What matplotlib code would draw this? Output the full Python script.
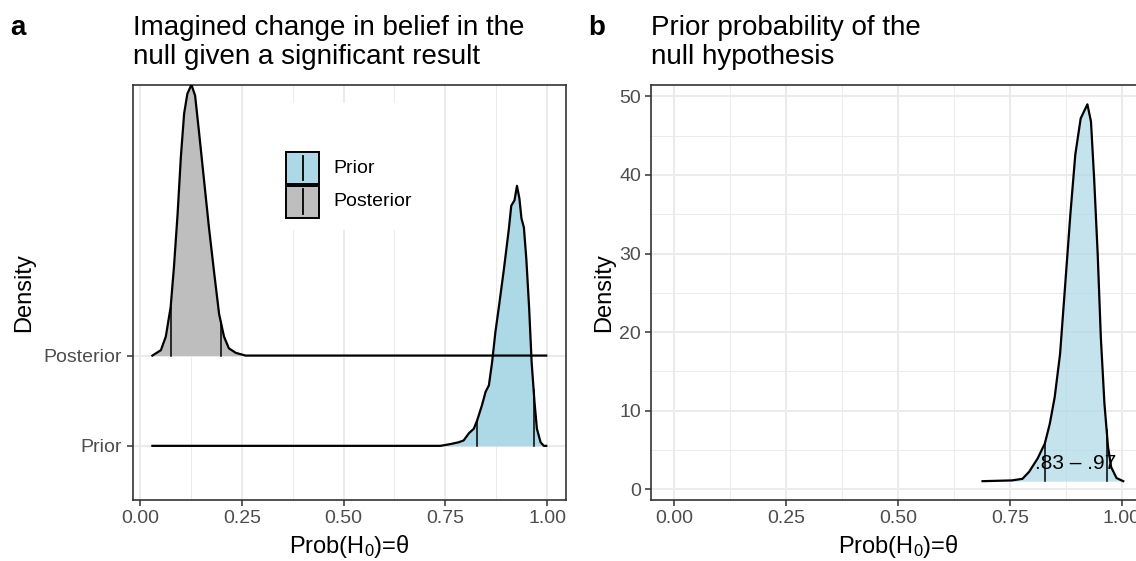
import numpy as np
import matplotlib
matplotlib.use("Agg")
import matplotlib.pyplot as plt
from matplotlib.patches import Rectangle

plt.rcParams['font.family'] = ['Liberation Sans', 'DejaVu Sans']
plt.rcParams['mathtext.fontset'] = 'custom'
plt.rcParams['mathtext.rm'] = 'Liberation Sans'
plt.rcParams['mathtext.it'] = 'Liberation Sans:italic'

# ---- panel a: ridgeline densities (height in ridge units) ----
prior_x = [0.030, 0.738, 0.763, 0.783, 0.795, 0.808, 0.820, 0.828, 0.840, 0.849,
           0.857, 0.865, 0.873, 0.881, 0.894, 0.906, 0.912, 0.920, 0.926, 0.932,
           0.937, 0.943, 0.949, 0.956, 0.962, 0.969, 0.975, 0.984, 0.992, 0.998]
prior_h = [0.00, 0.00, 0.02, 0.04, 0.06, 0.14, 0.19, 0.28, 0.45, 0.60,
           0.67, 0.93, 1.26, 1.52, 1.96, 2.40, 2.66, 2.72, 2.88, 2.74,
           2.52, 2.42, 2.07, 1.52, 0.93, 0.49, 0.19, 0.04, 0.00, 0.00]
post_x = [0.030, 0.051, 0.063, 0.075, 0.083, 0.092, 0.100, 0.108, 0.116, 0.126,
          0.135, 0.145, 0.157, 0.169, 0.182, 0.194, 0.206, 0.218, 0.235, 0.259, 0.998]
post_h = [0.00, 0.06, 0.21, 0.54, 0.98, 1.57, 2.20, 2.68, 2.90, 3.00,
          2.88, 2.46, 1.94, 1.42, 0.91, 0.46, 0.21, 0.08, 0.03, 0.00, 0.00]
prior_q = [0.828, 0.967]
post_q = [0.075, 0.198]
groups = ['Prior', 'Posterior']

# ---- panel b: prior density ----
b_x = [0.689, 0.755, 0.778, 0.793, 0.812, 0.828, 0.839, 0.850, 0.862, 0.873,
       0.885, 0.896, 0.908, 0.923, 0.931, 0.938, 0.946, 0.953, 0.961, 0.969,
       0.976, 0.988, 1.003]
b_dens = [1.0, 1.1, 1.3, 2.2, 3.9, 5.8, 8.3, 11.7, 17.2, 25.7,
          35.0, 42.6, 47.2, 49.0, 46.8, 39.6, 29.9, 19.3, 10.9, 5.4,
          2.8, 1.4, 1.0]
b_base = 1.0
b_q = [0.829, 0.966]
b_label = '.83 \u2013 .97'

grid_col = '#EBEBEB'
border_col = '#333333'
tick_col = '#4D4D4D'
blue = '#ADD8E6'
grey = '#BEBEBE'

fig = plt.figure(figsize=(11.36, 5.61), dpi=100)
ax1 = fig.add_axes([0.1168, 0.1087, 0.3814, 0.7403])
ax2 = fig.add_axes([0.5735, 0.1087, 0.4338, 0.7403])


def style(ax):
    ax.set_axisbelow(True)
    for s in ax.spines.values():
        s.set_color(border_col)
        s.set_linewidth(1.2)
    ax.tick_params(colors=border_col, labelcolor=tick_col, labelsize=14,
                   length=4, width=1.1)
    ax.grid(which='major', color=grid_col, lw=1.4)
    ax.grid(which='minor', color=grid_col, lw=0.7)
    ax.tick_params(which='minor', length=0)


# panel a
xt = [0, 0.25, 0.5, 0.75, 1.0]
for yi, (xs, hs, qs, col) in enumerate([(prior_x, prior_h, prior_q, blue),
                                       (post_x, post_h, post_q, grey)], start=1):
    xs = np.array(xs)
    top = yi + np.array(hs)
    ax1.fill_between(xs, yi, top, color=col, lw=0, zorder=2 + yi)
    ax1.plot(xs, top, color='black', lw=1.6, zorder=2.5 + yi,
             solid_joinstyle='round')
    for q in qs:
        ax1.plot([q, q], [yi, yi + np.interp(q, xs, hs)], color='black', lw=1.1,
                 zorder=2.5 + yi)

allx = prior_x + post_x
rng = max(allx) - min(allx)
ax1.set_xlim(min(allx) - 0.05 * rng, max(allx) + 0.05 * rng)
ax1.set_ylim(0.4, 2 + max(post_h))
ax1.set_xticks(xt)
ax1.set_xticklabels(['%.2f' % v for v in xt])
ax1.set_xticks([0.125, 0.375, 0.625, 0.875], minor=True)
ax1.set_yticks([1, 2])
ax1.set_yticklabels(groups)
style(ax1)
ax1.set_xlabel('Prob($\\mathrm{H}_0$)=\u03b8', fontsize=17, labelpad=4)
ax1.set_ylabel('Density', fontsize=17, labelpad=6)

# legend drawn by hand inside panel a
ax1.add_patch(Rectangle((0.330, 0.650), 0.337, 0.306, transform=ax1.transAxes,
                        facecolor='white', edgecolor='none', zorder=1.5))
for i, (lab, col) in enumerate(zip(groups, [blue, grey])):
    y0 = 0.761 - i * 0.081
    ax1.add_patch(Rectangle((0.355, y0), 0.075, 0.077, transform=ax1.transAxes,
                            facecolor=col, edgecolor='black', lw=1.4, zorder=6))
    ax1.plot([0.3925, 0.3925], [y0 + 0.009, y0 + 0.068], transform=ax1.transAxes,
             color='black', lw=1.3, zorder=7)
    ax1.text(0.463, y0 + 0.038, lab, transform=ax1.transAxes, fontsize=14,
             va='center', ha='left', zorder=7)

# panel b
bx = np.array(b_x)
bd = np.array(b_dens)
ax2.fill_between(bx, b_base, bd, color=blue, alpha=0.7, lw=0, zorder=2)
ax2.plot(bx, bd, color='black', lw=1.6, zorder=3, solid_joinstyle='round')
for q in b_q:
    ax2.plot([q, q], [b_base, np.interp(q, bx, bd)], color='black', lw=1.1, zorder=3)
ax2.text(np.mean(b_q), 3.3, b_label, fontsize=15, ha='center', va='center', zorder=4)
ax2.set_xlim(-0.05, 1.05)
ax2.set_ylim(-1.4, 51.5)
ax2.set_xticks(xt)
ax2.set_xticklabels(['%.2f' % v for v in xt])
ax2.set_xticks([0.125, 0.375, 0.625, 0.875], minor=True)
ax2.set_yticks([0, 10, 20, 30, 40, 50])
ax2.set_yticks([5, 15, 25, 35, 45], minor=True)
style(ax2)
ax2.set_xlabel('Prob($\\mathrm{H}_0$)=\u03b8', fontsize=17, labelpad=4)
ax2.set_ylabel('Density', fontsize=17, labelpad=3)

# titles and panel tags
ty = 1 - 64 / 561
fig.text(0.1168, ty, 'Imagined change in belief in the\nnull given a significant result',
         fontsize=20, ha='left', va='baseline', linespacing=1.15)
fig.text(0.5735, ty, 'Prior probability of the\nnull hypothesis',
         fontsize=20, ha='left', va='baseline', linespacing=1.15)
fig.text(10 / 1136, 1 - 35 / 561, 'a', fontsize=20, fontweight='bold', va='baseline')
fig.text(588 / 1136, 1 - 35 / 561, 'b', fontsize=20, fontweight='bold', va='baseline')

fig.savefig('out.png', dpi=100)
